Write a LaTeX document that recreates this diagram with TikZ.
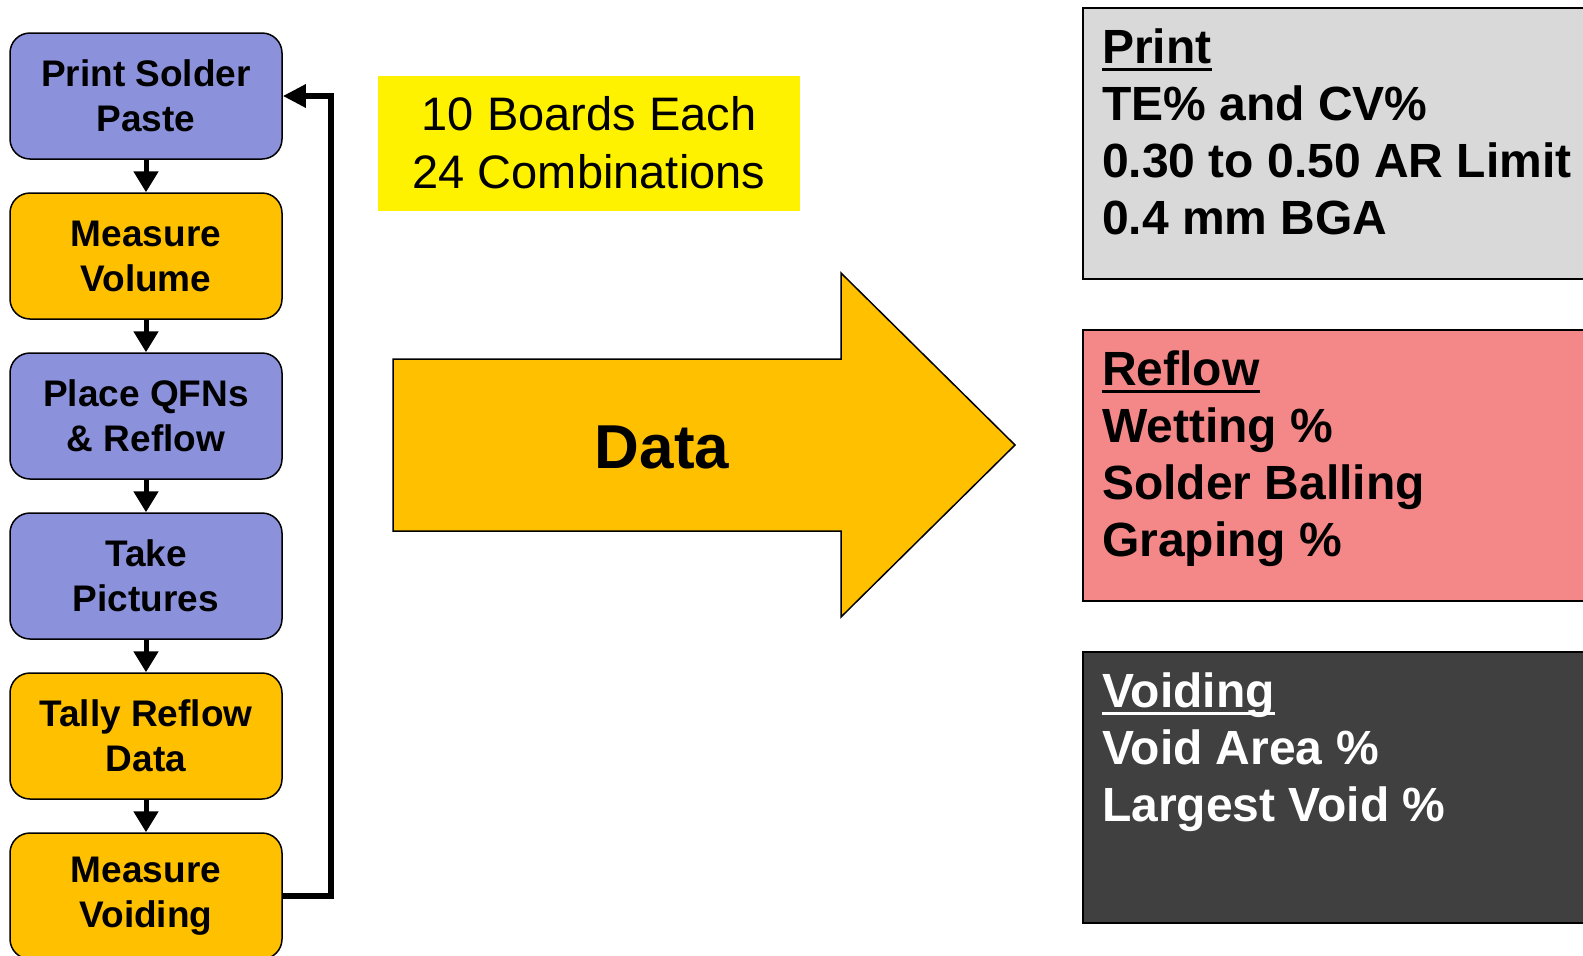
\documentclass[tikz,border=0pt]{standalone}
\usepackage{fontspec}
\setmainfont{Liberation Sans}
\usetikzlibrary{arrows.meta}
\definecolor{stepblue}{RGB}{139,146,219}
\definecolor{steporange}{RGB}{255,192,0}
\definecolor{printgray}{RGB}{217,217,217}
\definecolor{reflowred}{RGB}{244,136,136}
\definecolor{voiddark}{RGB}{64,64,64}
% underlined panel heading, rule at a fixed depth
\newcommand{\paneltitle}[1]{\setbox0=\hbox{#1}\rlap{\rule[-7.5pt]{\wd0}{3.5pt}}\box0}
\begin{document}
\begin{tikzpicture}[x=1pt,y=-1pt,
    stepbox/.style={draw=black,line width=1.5pt,rounded corners=20pt,
      minimum width=272pt,minimum height=126pt,inner sep=0pt,align=center,
      font=\bfseries\fontsize{37}{45}\selectfont},
    panel/.style={draw=black,line width=1.5pt,anchor=north west,
      minimum width=560pt,minimum height=271pt,inner sep=0pt},
    paneltext/.style={anchor=north west,inner sep=0pt,align=left,
      font=\bfseries\fontsize{48}{57}\selectfont},
    flow/.style={line width=5pt,-{Triangle[width=24pt,length=21pt]}},
    feedback/.style={line width=6pt,-{Triangle[width=22pt,length=23pt]}}]
  \useasboundingbox (0,0) rectangle (1583,956);
  \clip (0,0) rectangle (1583,956);
  % process steps
  \draw
    (146,96) node[stepbox,fill=stepblue] (print){Print Solder\\Paste}
    (146,256) node[stepbox,fill=steporange] (volume){Measure\\Volume}
    (146,416) node[stepbox,fill=stepblue] (place){Place QFNs\\\& Reflow}
    (146,576) node[stepbox,fill=stepblue] (pictures){Take\\Pictures}
    (146,736) node[stepbox,fill=steporange] (tally){Tally Reflow\\Data}
    (146,896) node[stepbox,fill=steporange] (voiding){Measure\\Voiding};
  \begin{scope}[flow]
    \draw (print) to (volume);
    \draw (volume) to (place);
    \draw (place) to (pictures);
    \draw (pictures) to (tally);
    \draw (tally) to (voiding);
  \end{scope}
  \draw[feedback] (voiding.east) -- ++(48,0) |- (print.east);
  % boards note
  \node[fill=yellow,minimum width=422pt,minimum height=135pt,inner sep=0pt,
    align=center,font=\fontsize{47}{58}\selectfont] (boards) at (589,143)
    {10 Boards Each\\24 Combinations};
  % big arrow
  \draw[fill=steporange,line width=1.5pt,line join=miter]
    (393,359) -- (841,359) -- (841,273) -- (1015,445) -- (841,617)
    -- (841,531) -- (393,531) -- cycle;
  \node[font=\bfseries\fontsize{62}{70}\selectfont] (data) at (662,447) {Data};
  % result panels
  \draw
    (1082,7) node[panel,fill=printgray] (printpanel){}
    (1082,329) node[panel,fill=reflowred] (reflowpanel){}
    (1082,651) node[panel,fill=voiddark] (voidpanel){};
  \node[paneltext] (printlist) at ([shift={(20,22)}]printpanel.north west)
    {\paneltitle{Print}\\TE\% and CV\%\\0.30 to 0.50 AR Limit\\0.4 mm BGA};
  \node[paneltext] (reflowlist) at ([shift={(20,22)}]reflowpanel.north west)
    {\paneltitle{Reflow}\\Wetting \%\\Solder Balling\\Graping \%};
  \node[paneltext,text=white] (voidlist) at ([shift={(20,22)}]voidpanel.north west)
    {\paneltitle{Voiding}\\Void Area \%\\Largest Void \%};
\end{tikzpicture}
\end{document}
